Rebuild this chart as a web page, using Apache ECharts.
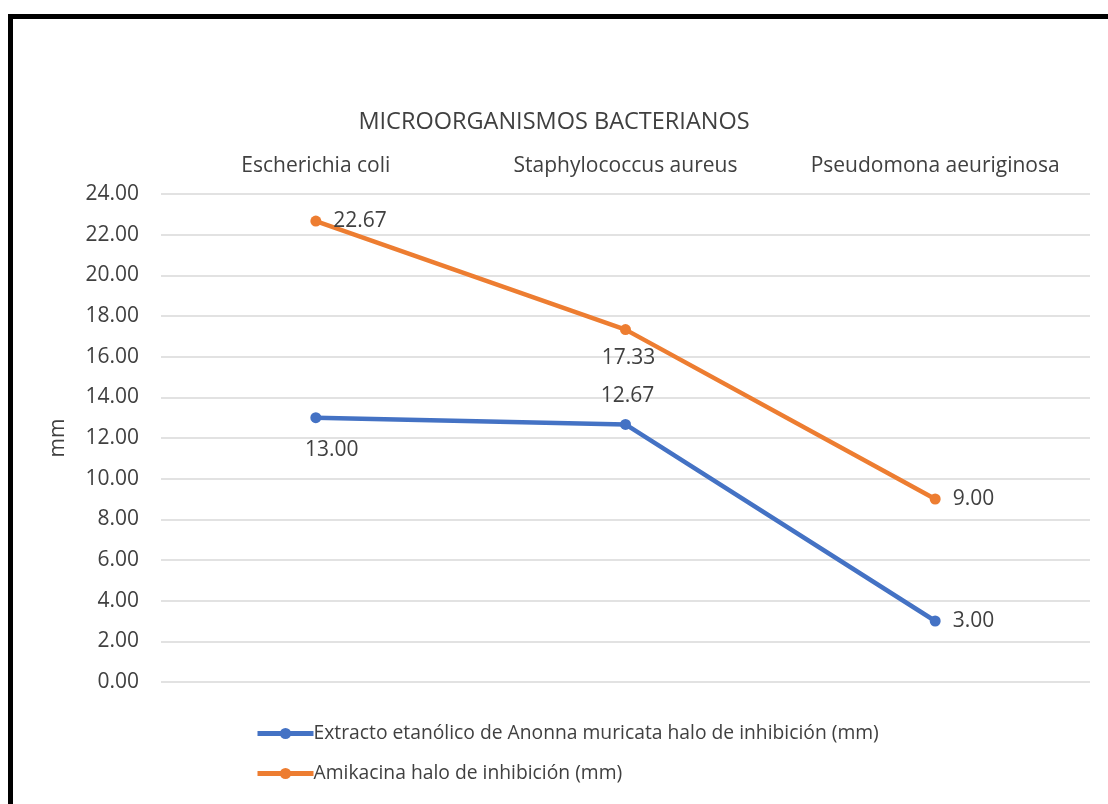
<!DOCTYPE html>
<html>
<head>
<meta charset="utf-8">
<script src="https://cdn.jsdelivr.net/npm/echarts@6/dist/echarts.min.js"></script>
<style>
  html, body { margin: 0; padding: 0; background: #fff; }
  #chart { width: 1108px; height: 804px; }
</style>
</head>
<body>
<div id="chart"></div>
<script>
var categories = ['Escherichia coli', 'Staphylococcus aureus', 'Pseudomona aeuriginosa']
var extracto = [13.00, 12.67, 3.00]
var amikacina = [22.67, 17.33, 9.00]
var seriesNames = ['Extracto etanólico de Anonna muricata halo de inhibición (mm)', 'Amikacina halo de inhibición (mm)']
// posicion de etiquetas por punto
var extractoLabelPos = ['bottom', 'top', 'right']
var amikacinaLabelPos = ['right', 'bottom', 'right']
var extractoLabelShift = [[16, 4], [2, 0], [0, 0]]
var amikacinaLabelShift = [[0, 0], [3, 0], [0, 0]]

var font = 'Open Sans'
var textColor = '#404040'

function makeData(vals, pos, shift) {
	let out = []
	for (let i = 0; i < vals.length; i++) {
		out.push({ value: vals[i], label: { position: pos[i], offset: shift[i] } })
	}
	return out
}

var chart = echarts.init(document.getElementById('chart'))
var option = {
	animation: false,
	textStyle: { fontFamily: font, color: textColor },
	graphic: [{
		type: 'rect',
		shape: { x: 10.5, y: 16.5, width: 1120, height: 820 },
		style: { fill: 'none', stroke: '#000', lineWidth: 5 },
		z: 100
	}],
	title: {
		text: 'MICROORGANISMOS BACTERIANOS',
		left: 'center',
		top: 105,
		textStyle: { fontFamily: font, fontSize: 23.5, fontWeight: 'normal', color: textColor }
	},
	grid: { left: 161, right: 18, top: 194, bottom: 122 },
	legend: {
		orient: 'vertical',
		left: 250,
		top: 719,
		itemWidth: 56,
		itemHeight: 14,
		itemGap: 21,
		lineStyle: { width: 5 },
		textStyle: { fontFamily: font, fontSize: 19.3, color: textColor, padding: [0, 0, 0, -5] },
		data: seriesNames
	},
	xAxis: {
		type: 'category',
		position: 'top',
		data: categories,
		axisLine: { show: false },
		axisTick: { show: false },
		axisLabel: { fontFamily: font, fontSize: 21, color: textColor, margin: 17, interval: 0, hideOverlap: false }
	},
	yAxis: {
		type: 'value',
		min: 0,
		max: 24,
		interval: 2,
		name: 'mm',
		nameLocation: 'middle',
		nameGap: 92,
		nameRotate: 90,
		nameTextStyle: { fontFamily: font, fontSize: 21, color: textColor },
		axisLine: { show: false },
		axisTick: { show: false },
		axisLabel: {
			fontFamily: font, fontSize: 21, color: textColor, margin: 22,
			formatter: function (v) { return v.toFixed(2) }
		},
		splitLine: { lineStyle: { color: '#d9d9d9', width: 1.5 } }
	},
	series: [
		{
			name: seriesNames[0],
			type: 'line',
			data: makeData(extracto, extractoLabelPos, extractoLabelShift),
			symbol: 'circle',
			symbolSize: 11,
			lineStyle: { width: 4.5, color: '#4472c4' },
			itemStyle: { color: '#4472c4' },
			label: {
				show: true, distance: 12, fontFamily: font, fontSize: 21, color: textColor,
				formatter: function (p) { return p.value.toFixed(2) }
			}
		},
		{
			name: seriesNames[1],
			type: 'line',
			data: makeData(amikacina, amikacinaLabelPos, amikacinaLabelShift),
			symbol: 'circle',
			symbolSize: 11,
			lineStyle: { width: 4.5, color: '#ed7d31' },
			itemStyle: { color: '#ed7d31' },
			label: {
				show: true, distance: 12, fontFamily: font, fontSize: 21, color: textColor,
				formatter: function (p) { return p.value.toFixed(2) }
			}
		}
	]
}
chart.setOption(option)
</script>
</body>
</html>
